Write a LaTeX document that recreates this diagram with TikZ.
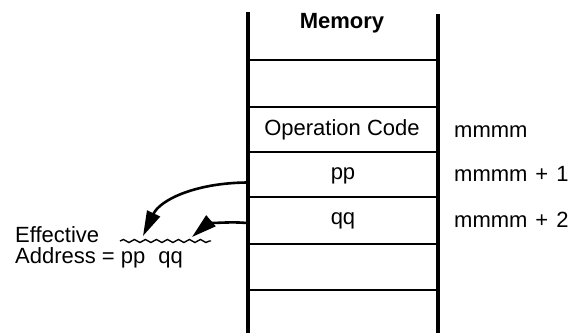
\documentclass[tikz,border=0pt]{standalone}
\usepackage{fontspec}
\setmainfont{Liberation Sans}
\usetikzlibrary{arrows.meta,decorations.pathmorphing}
\tikzset{
	cell/.style={minimum width=192pt,minimum height=45pt,inner sep=0pt},
	addr/.style={anchor=base west,inner sep=0pt},
	pointer/.style={line width=2.6pt,-{Triangle[length=25pt,width=14pt]}}
}
\begin{document}
\begin{tikzpicture}[x=1pt,y=-1pt,font=\fontsize{22}{26}\selectfont]
	\useasboundingbox (0,0) rectangle (579,333);
	\draw [line width=4.5pt] (248,12) -- (248,333);%linke Wand
	\draw [line width=4.5pt] (438,14) -- (438,333);%rechte Wand
	\foreach \y in {60,107,152,197,244,290}
		\draw [line width=2pt] (248,\y) -- (438,\y);%Zellgrenzen

	\node (memory) [anchor=base,inner sep=0pt] at (342,28) {\textbf{Memory}};
	\node[cell] (op) at (342,130) {Operation Code};
	\node[cell] (pp) at (343,175.5) {pp};
	\node[cell] (qq) at (343,221) {qq};

	\node[addr] (a0) at (454,137) {mmmm};
	\node[addr] (a1) at (454,181) {mmmm\hspace{8pt}+\hspace{8pt}1};
	\node[addr] (a2) at (454,227) {mmmm\hspace{8pt}+\hspace{8pt}2};

	\node[addr] (eff) at (15,242) {Effective};
	\node[addr] (ea) at (15,263) {Address = pp\hspace{13pt}qq};

	\draw [line width=1.4pt,decorate,decoration={snake,amplitude=1.5pt,segment length=11pt}] (120,241) -- (211,241);%Wellenlinie
	\coordinate (hi) at (143,236);
	\coordinate (lo) at (192,237);
	\draw[pointer] ([yshift=-7pt]pp.west) .. controls (195,183) and (160,200) .. (hi);
	\draw[pointer] ([yshift=-2pt]qq.west) .. controls (225,221) and (206,225) .. (lo);
\end{tikzpicture}
\end{document}
